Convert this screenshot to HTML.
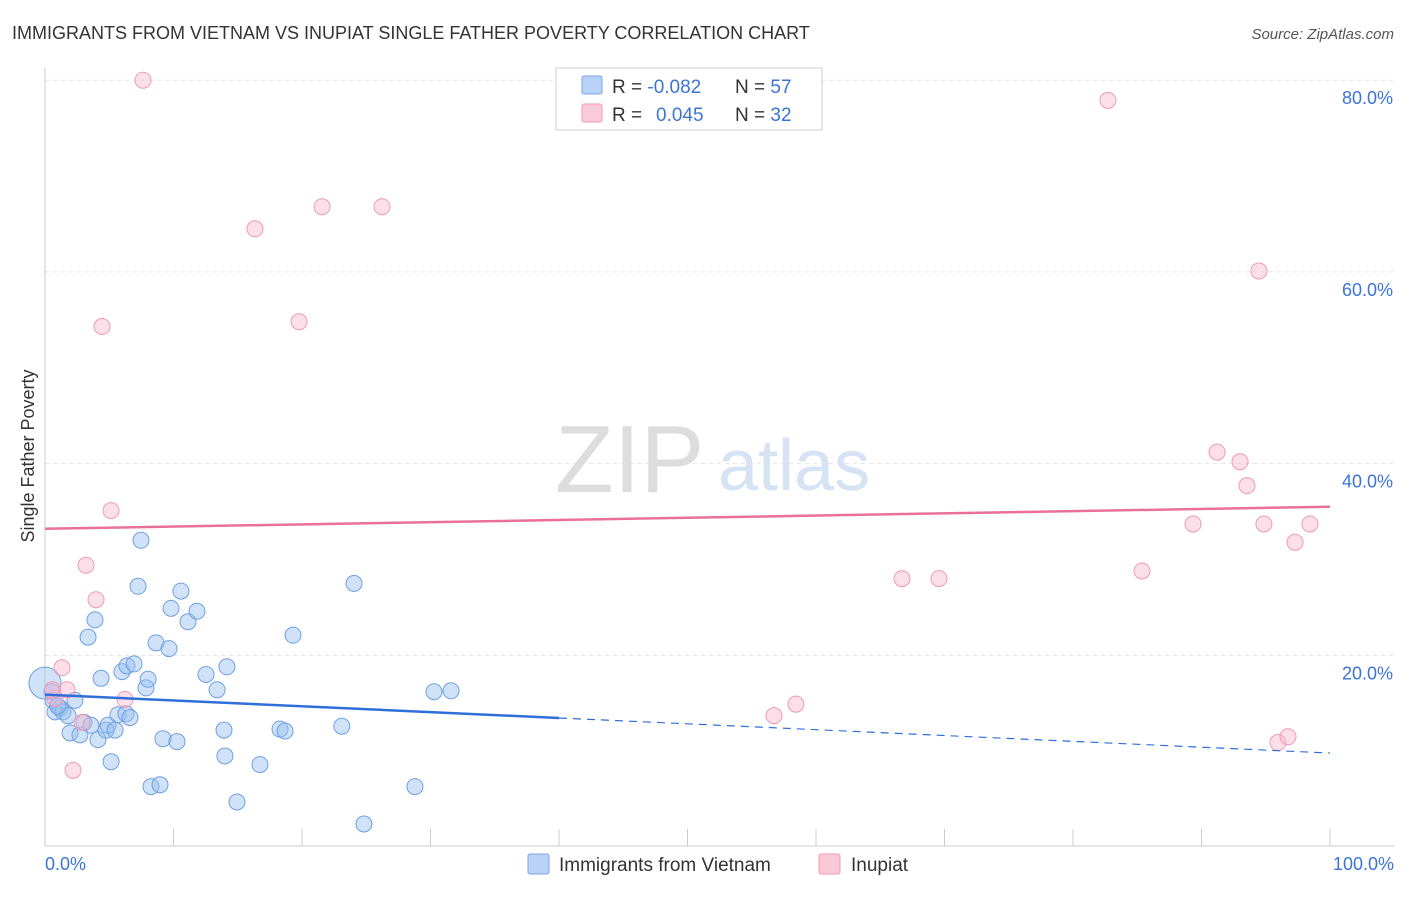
<!DOCTYPE html>
<html><head><meta charset="utf-8"><style>
body{margin:0;background:#fff;font-family:"Liberation Sans",sans-serif;}
svg text{font-family:"Liberation Sans",sans-serif;}
</style></head><body>
<svg width="1406" height="892" viewBox="0 0 1406 892">
<text x="12" y="39" font-size="18" fill="#333">IMMIGRANTS FROM VIETNAM VS INUPIAT SINGLE FATHER POVERTY CORRELATION CHART</text>
<text x="1394" y="39" font-size="15" fill="#555" font-style="italic" text-anchor="end">Source: ZipAtlas.com</text>
<g id="grid"></g>
<g id="ticks"></g>
<line x1="45" y1="68" x2="45" y2="846" stroke="#ccc"/>
<line x1="45" y1="846" x2="1394" y2="846" stroke="#ccc"/>
<text x="555" y="492" font-size="96" fill="#ddd" font-family="Liberation Serif">ZIP</text>
<text x="718" y="490" font-size="72" fill="#d5e3f5">atlas</text>
<text transform="translate(34,456) rotate(-90)" font-size="18" fill="#333" text-anchor="middle">Single Father Poverty</text>
<text x="45" y="870" font-size="18" fill="#3b74d6">0.0%</text>
<text x="1394" y="870" font-size="18" fill="#3b74d6" text-anchor="end">100.0%</text>
<g id="pts"></g>
<g id="trend"></g>
<g>
<rect x="556" y="68" width="266" height="62" fill="#fff" stroke="#ccc"/>
<rect x="582" y="76" width="20" height="18" fill="#b8d3f5" stroke="#7aa6e6" rx="2"/>
<rect x="582" y="104" width="20" height="18" fill="#fbcad8" stroke="#f09ab5" rx="2"/>
<text x="612" y="93" font-size="19" fill="#333">R = <tspan fill="#3b74d6">-0.082</tspan><tspan x="735">N = </tspan><tspan fill="#3b74d6">57</tspan></text>
<text x="612" y="121" font-size="19" fill="#333">R = <tspan fill="#3b74d6" x="656">0.045</tspan><tspan x="735">N = </tspan><tspan fill="#3b74d6">32</tspan></text>
</g>
<g>
<rect x="528" y="854" width="21" height="20" fill="#b8d3f5" stroke="#7aa6e6" rx="2"/>
<text x="559" y="871" font-size="19" fill="#333">Immigrants from Vietnam</text>
<rect x="819" y="854" width="21" height="20" fill="#fbcad8" stroke="#f09ab5" rx="2"/>
<text x="851" y="871" font-size="19" fill="#333">Inupiat</text>
</g>
</svg>
<script>
const yTicks=[20,40,60,80];
const xTickCount=10;
const blueX=[0.54,0.78,0.62,1.17,1.4,1.79,1.95,2.33,2.72,3.03,3.35,3.58,3.89,4.12,4.36,4.75,4.9,5.14,5.45,5.68,5.99,6.3,6.38,6.61,6.93,7.24,7.47,7.86,8.02,8.25,8.64,8.95,9.18,9.65,9.81,10.27,10.58,11.13,11.83,12.53,13.39,13.93,14.0,14.16,14.94,16.73,18.29,18.68,19.3,23.1,24.05,24.82,28.79,30.27,31.6,1.0,0];
const blueY=[16.2,14.1,15.3,14.5,14.1,13.7,11.9,15.3,11.7,13.0,21.9,12.7,23.7,11.2,17.6,12.2,12.7,8.9,12.2,13.8,18.3,13.9,18.9,13.5,19.1,27.2,32.0,16.6,17.5,6.3,21.3,6.5,11.3,20.7,24.9,11.0,26.7,23.5,24.6,18.0,16.4,12.2,9.5,18.8,4.7,8.6,12.3,12.1,22.1,12.6,27.5,2.4,6.3,16.2,16.3,14.7,17.1];
const pinkX=[7.63,16.34,21.56,26.23,4.44,19.77,5.14,3.19,3.97,1.32,1.71,0.78,6.23,2.88,2.18,82.72,94.47,91.21,93.0,93.54,89.34,94.86,98.44,97.28,85.37,66.69,69.57,56.73,58.44,95.95,96.73,0.6];
const pinkY=[80.0,64.5,66.8,66.8,54.3,54.8,35.1,29.4,25.8,18.7,16.4,15.5,15.4,13.0,8.0,77.9,60.1,41.2,40.2,37.7,33.7,33.7,33.7,31.8,28.8,28.0,28.0,13.7,14.9,10.9,11.5,16.4];
const blueTrend=[15.9,9.8];
const pinkTrend=[33.2,35.5];
const NS="http://www.w3.org/2000/svg";
const sx=v=>45+v*12.85, sy=v=>847-v*9.585;
function mk(t,a,p){const e=document.createElementNS(NS,t);for(const k in a)e.setAttribute(k,a[k]);p.appendChild(e);return e;}
const grid=document.getElementById('grid');
yTicks.forEach(t=>{
 const l=mk('line',{x1:45,x2:1394,y1:sy(t),y2:sy(t),stroke:'#e2e2e2','stroke-dasharray':'4,4'},grid);
 
 
 const tx=mk('text',{x:1393,y:sy(t)+24,'font-size':18,fill:'#3b74d6','text-anchor':'end'},grid);
 tx.textContent=t.toFixed(1)+'%';
 
 
});
const ticks=document.getElementById('ticks');
for(let i=1;i<=xTickCount;i++){
 const l=mk('line',{x1:sx(i*10),x2:sx(i*10),y1:829,y2:846,stroke:'#ccc'},ticks);
 
 
}
const pts=document.getElementById('pts');
blueX.forEach((x,i)=>{
 const big=i===blueX.length-1;
 const c=mk('circle',{cx:sx(x),cy:sy(blueY[i]),r:big?16:8,fill:'rgba(150,190,240,0.45)',stroke:'#6fa0e3','stroke-width':1},pts);
 
 
});
pinkX.forEach((x,i)=>{
 const c=mk('circle',{cx:sx(x),cy:sy(pinkY[i]),r:8,fill:'rgba(248,185,205,0.45)',stroke:'#ee9ab6','stroke-width':1},pts);
 
 
});
const tr=document.getElementById('trend');
const bAt=x=>blueTrend[0]+(blueTrend[1]-blueTrend[0])*x/100;
let l1=mk('line',{x1:sx(0),y1:sy(bAt(0)),x2:sx(40),y2:sy(bAt(40)),stroke:'#2f6fd8','stroke-width':2.5},tr);


let l2=mk('line',{x1:sx(40),y1:sy(bAt(40)),x2:sx(100),y2:sy(bAt(100)),stroke:'#2f6fd8','stroke-width':1.2,'stroke-dasharray':'8,6'},tr);


let l3=mk('line',{x1:sx(0),y1:sy(pinkTrend[0]),x2:sx(100),y2:sy(pinkTrend[1]),stroke:'#e8709a','stroke-width':2.5},tr);


</script>
</body></html>
